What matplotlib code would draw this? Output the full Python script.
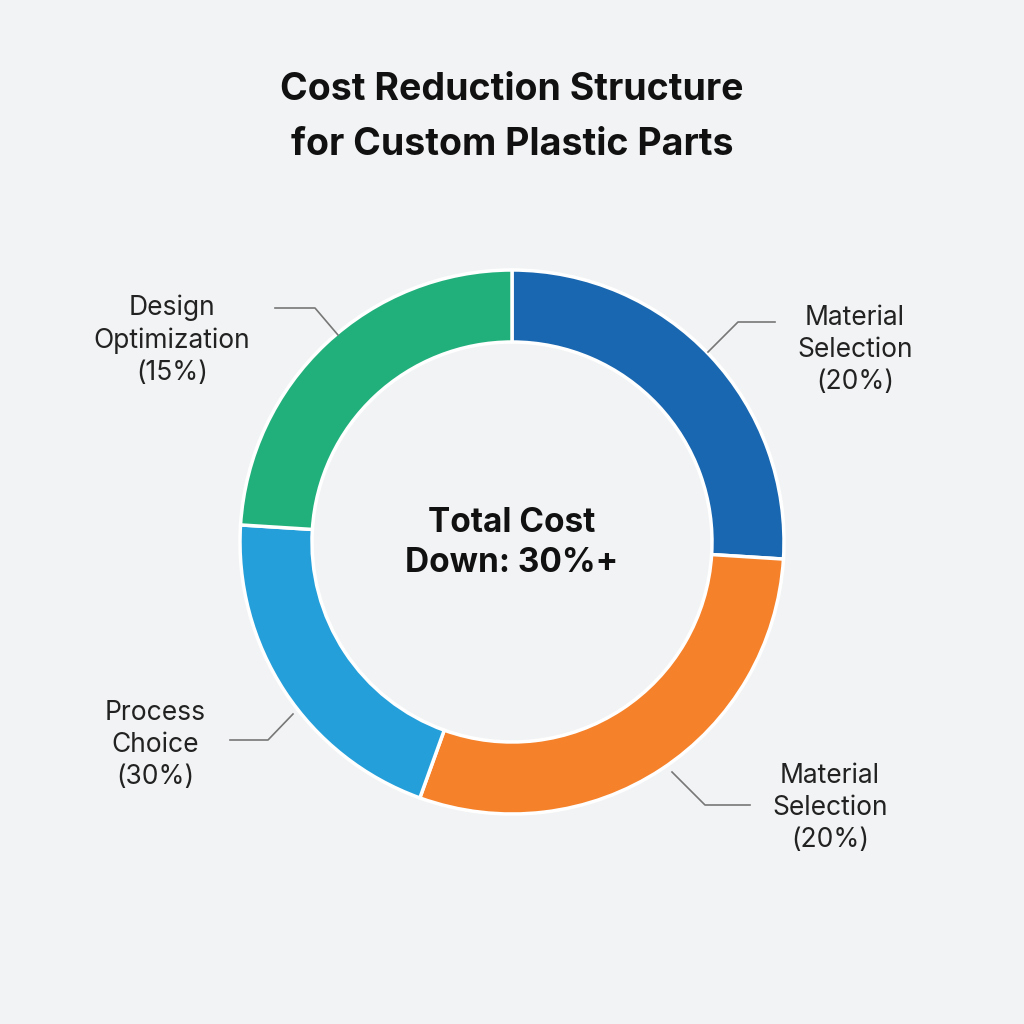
import matplotlib.pyplot as plt

plt.rcParams['font.family'] = ['Inter', 'DejaVu Sans']

categories = ["Material\nSelection", "Material\nSelection", "Process\nChoice", "Design\nOptimization"]
label_pcts = [20, 20, 30, 15]
# segment sizes as drawn (share of ring, %)
segment_sizes = [26.0, 29.5, 20.5, 24.0]
colors = ["#1967b0", "#f5812a", "#259fd9", "#21b07c"]

fig = plt.figure(figsize=(10.24, 10.24), dpi=100)
fig.patch.set_facecolor("#f2f3f4")
ax = fig.add_axes([0, 0, 1, 1])
ax.set_facecolor("#f2f3f4")

cx, cy = 512, 542
ax.pie(segment_sizes, colors=colors, startangle=90, counterclock=False,
       center=(cx, 1024 - cy), radius=272,
       wedgeprops=dict(width=72, edgecolor="white", linewidth=2.5))
ax.set_xlim(0, 1024); ax.set_ylim(0, 1024)
ax.set_aspect("equal"); ax.axis("off")

def Y(y):
    return 1024 - y

ax.text(512, Y(90), "Cost Reduction Structure", ha="center", va="center",
        fontsize=27, fontweight="bold", color="#111111")
ax.text(512, Y(145), "for Custom Plastic Parts", ha="center", va="center",
        fontsize=27, fontweight="bold", color="#111111")
ax.text(512, Y(543), "Total Cost\nDown: 30%+", ha="center", va="center",
        fontsize=24, fontweight="bold", color="#111111", linespacing=1.3)

labels = [f"{c}\n({p}%)" for c, p in zip(categories, label_pcts)]
label_pos = [(855, 350), (830, 808), (155, 745), (172, 340)]
lines = [
    [(708, 352), (738, 322), (775, 322)],
    [(672, 772), (705, 805), (750, 805)],
    [(293, 714), (268, 740), (230, 740)],
    [(338, 335), (315, 308), (275, 308)],
]
for lab, (x, y), ln in zip(labels, label_pos, lines):
    ax.text(x, Y(y), lab, ha="center", va="center", fontsize=19,
            color="#222222", linespacing=1.3)
    ax.plot([p[0] for p in ln], [Y(p[1]) for p in ln], color="#777777", lw=1.2)

fig.savefig("out.png", dpi=100, facecolor=fig.get_facecolor())
